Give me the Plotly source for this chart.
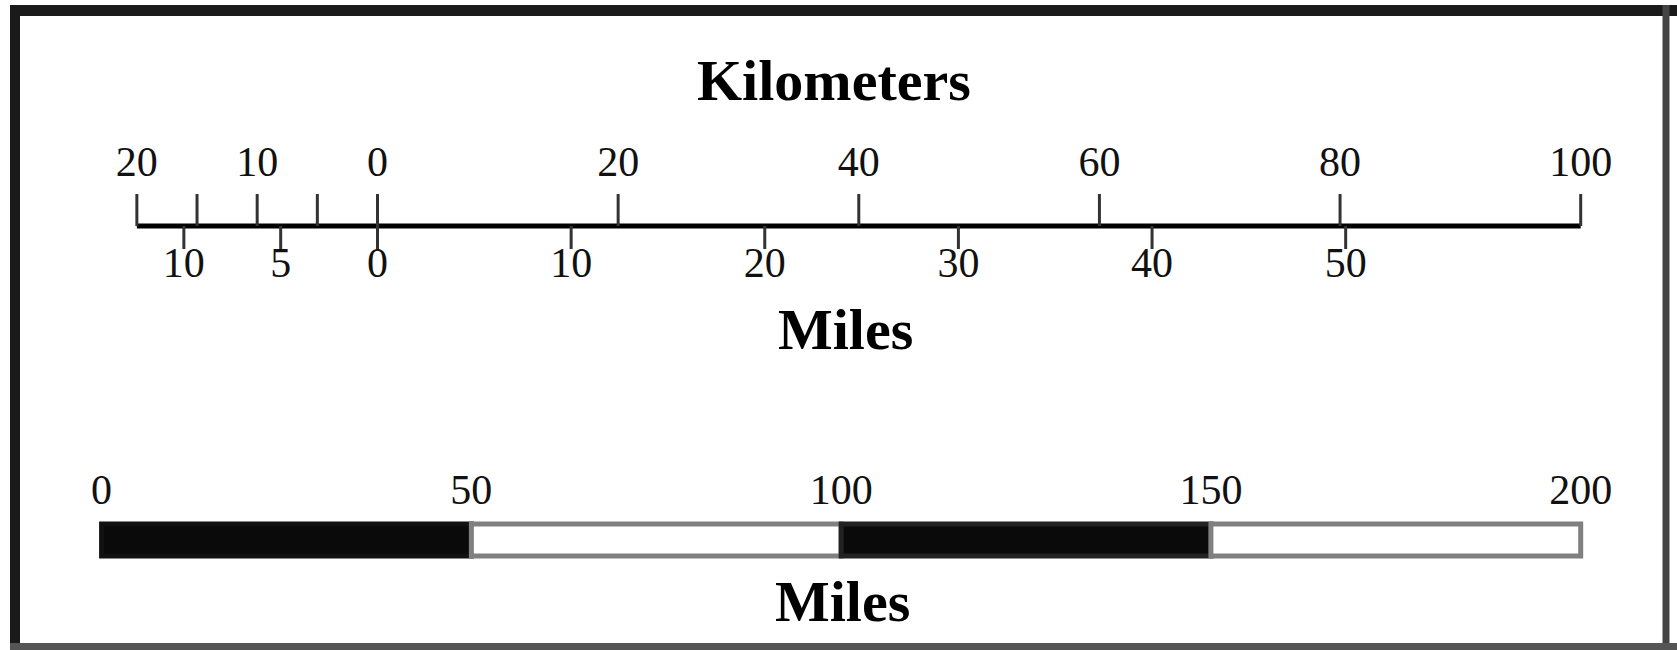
import plotly.graph_objects as go

# ---- data ----
KM_PER_MILE = 1.609344
km_tick_values = [-20, -15, -10, -5, 0, 20, 40, 60, 80, 100]
km_label_values = [-20, -10, 0, 20, 40, 60, 80, 100]
km_label_text = ["20", "10", "0", "20", "40", "60", "80", "100"]
mile_tick_values = [-10, -5, 0, 10, 20, 30, 40, 50]
mile_label_text = ["10", "5", "0", "10", "20", "30", "40", "50"]

bar_starts = [0, 50, 100, 150]
bar_lengths = [50, 50, 50, 50]
bar_colors = ["#0a0a0a", "#ffffff", "#0a0a0a", "#ffffff"]
bar_edge_colors = ["#111111", "#808080", "#222222", "#808080"]
bar_label_values = [0, 50, 100, 150, 200]
bar_label_text = ["0", "50", "100", "150", "200"]

W, H = 1677, 650
FONT = "Liberation Serif"

# layout constants (pixel rows)
Y_LINE = 226
Y_KM_TICK_TOP = 194
Y_MI_TICK_BOT = 249
Y_KM_LABEL = 165
Y_MI_LABEL = 266
Y_BAR = 540
Y_BAR_LABEL = 493

fig = go.Figure()

# main scale line
fig.add_trace(go.Scatter(x=[km_tick_values[0], km_tick_values[-1]], y=[Y_LINE, Y_LINE],
                         mode="lines", line=dict(color="#000", width=5),
                         hoverinfo="skip", showlegend=False))

# km ticks (upward)
kx, ky = [], []
for v in km_tick_values:
    kx += [v, v, None]
    ky += [Y_KM_TICK_TOP, Y_LINE, None]
fig.add_trace(go.Scatter(x=kx, y=ky, mode="lines", line=dict(color="#333", width=3),
                         hoverinfo="skip", showlegend=False))

# mile ticks (downward)
mx, my = [], []
for v in mile_tick_values:
    mx += [v * KM_PER_MILE, v * KM_PER_MILE, None]
    my += [Y_LINE, Y_MI_TICK_BOT, None]
fig.add_trace(go.Scatter(x=mx, y=my, mode="lines", line=dict(color="#333", width=3),
                         hoverinfo="skip", showlegend=False))

# km labels
fig.add_trace(go.Scatter(x=km_label_values, y=[Y_KM_LABEL] * len(km_label_values),
                         mode="text", text=km_label_text, textposition="middle center",
                         textfont=dict(family=FONT, size=42, color="#111"),
                         hoverinfo="skip", showlegend=False))
# mile labels
fig.add_trace(go.Scatter(x=[v * KM_PER_MILE for v in mile_tick_values],
                         y=[Y_MI_LABEL] * len(mile_tick_values),
                         mode="text", text=mile_label_text, textposition="middle center",
                         textfont=dict(family=FONT, size=42, color="#111"),
                         hoverinfo="skip", showlegend=False))

# bottom bar scale (miles, on xaxis2)
fig.add_trace(go.Bar(x=bar_lengths, base=bar_starts, y=[Y_BAR] * 4, orientation="h",
                     width=32, marker=dict(color=bar_colors,
                                           line=dict(color=bar_edge_colors, width=5)),
                     xaxis="x2", yaxis="y", hoverinfo="skip", showlegend=False))
fig.add_trace(go.Scatter(x=bar_label_values, y=[Y_BAR_LABEL] * len(bar_label_values),
                         mode="text", text=bar_label_text, textposition="middle center",
                         textfont=dict(family=FONT, size=42, color="#111"),
                         xaxis="x2", yaxis="y", hoverinfo="skip", showlegend=False))

# titles
for txt, xp, yp in [("Kilometers", 834, 80), ("Miles", 845, 329), ("Miles", 843, 601)]:
    fig.add_annotation(text="<b>%s</b>" % txt, x=xp / W, y=1 - yp / H, xref="paper", yref="paper",
                       showarrow=False, xanchor="center", yanchor="middle",
                       font=dict(family=FONT, size=58, color="#000"))

# frame (pixel coordinates converted to paper)
frame = [
    (10, 10.5, W, 10.5, "#1a1a1a", 11),      # top
    (15, 5, 15, H, "#1a1a1a", 10),           # left
    (1666, 5, 1666, H, "#444", 7),           # right
    (10, 646.5, W, 646.5, "#555", 7),        # bottom
]
for x0, y0, x1, y1, c, w in frame:
    fig.add_shape(type="line", xref="paper", yref="paper",
                  x0=x0 / W, x1=x1 / W, y0=1 - y0 / H, y1=1 - y1 / H,
                  line=dict(color=c, width=w))

fig.update_layout(
    width=W, height=H, margin=dict(l=0, r=0, t=0, b=0),
    paper_bgcolor="white", plot_bgcolor="white", barmode="overlay",
    xaxis=dict(range=[-377.5 / 12.032, (W - 377.5) / 12.032], visible=False, fixedrange=True),
    xaxis2=dict(range=[-101.6 / 7.3955, (W - 101.6) / 7.3955], overlaying="x", visible=False,
                fixedrange=True),
    yaxis=dict(range=[H, 0], visible=False, fixedrange=True),
)

fig.write_html("out.html", config={"displayModeBar": False},
               post_script="document.body.style.margin='0';document.body.style.overflow='hidden';")
